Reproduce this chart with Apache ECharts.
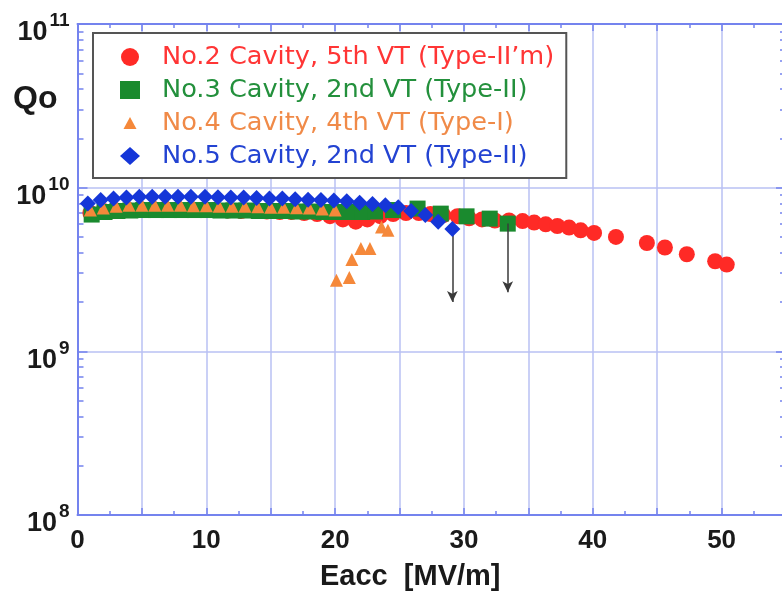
<!DOCTYPE html>
<html>
<head>
<meta charset="utf-8">
<script src="https://cdn.jsdelivr.net/npm/echarts@6/dist/echarts.min.js"></script>
<style>
html, body { margin: 0; padding: 0; background: #ffffff; }
#chart { width: 782px; height: 591px; }
</style>
</head>
<body>
<div id="chart"></div>
<script>
// Qo vs Eacc for four vertical tests (Q values in units of 1e9)
const seriesNames = [
  'No.2 Cavity, 5th VT (Type-II\u2019m)',
  'No.3 Cavity, 2nd VT (Type-II)',
  'No.4 Cavity, 4th VT (Type-I)',
  'No.5 Cavity, 2nd VT (Type-II)'
];

const no2E = [1.0, 2.0, 2.9, 3.9, 4.9, 5.9, 6.8, 7.8, 8.8, 9.8, 10.8, 11.7, 12.7, 13.7, 14.7, 15.7, 16.6, 17.6, 18.6, 19.6,
  20.6, 21.6, 22.5, 23.5, 24.5, 25.5, 26.5, 27.4, 28.4, 29.5, 30.4, 31.4, 32.4, 33.5, 34.55, 35.45, 36.35, 37.25, 38.16,
  39.06, 40.1, 41.8, 44.2, 45.6, 47.3, 49.5, 50.4];
const no2Q = [7.0, 7.2, 7.3, 7.35, 7.4, 7.4, 7.4, 7.35, 7.3, 7.3, 7.3, 7.25, 7.2, 7.2, 7.15, 7.1, 7.1, 7.0, 6.9, 6.7,
  6.4, 6.2, 6.4, 6.7, 6.9, 7.0, 7.0, 6.9, 6.8, 6.7, 6.5, 6.4, 6.3, 6.3, 6.25, 6.12, 5.97, 5.83, 5.7,
  5.49, 5.29, 5.0, 4.59, 4.31, 3.92, 3.55, 3.39];

const no3E = [1.1, 2.1, 3.1, 4.1, 5.1, 6.1, 7.1, 8.1, 9.1, 10.1, 11.1, 12.1, 13.1, 14.1, 15.1, 16.1, 17.1, 18.1, 19.1, 20.1,
  21.1, 22.1, 23.1, 24.5, 26.4, 28.2, 30.2, 32.0, 33.4];
const no3Q = [6.85, 7.1, 7.2, 7.25, 7.3, 7.3, 7.3, 7.3, 7.3, 7.3, 7.25, 7.25, 7.25, 7.2, 7.2, 7.2, 7.15, 7.15, 7.1, 7.1,
  7.1, 7.1, 7.15, 7.3, 7.45, 6.94, 6.68, 6.47, 6.03];

const no4E = [1.0, 2.0, 3.0, 4.0, 5.0, 6.0, 7.0, 8.0, 9.0, 10.0, 11.0, 12.0, 13.0, 14.0, 15.0, 16.0, 17.0, 18.0, 19.0, 20.0,
  20.1, 21.1, 21.3, 22.0, 22.7, 23.6, 24.1];
const no4Q = [7.3, 7.5, 7.7, 7.8, 7.8, 7.8, 7.8, 7.8, 7.75, 7.75, 7.7, 7.7, 7.7, 7.65, 7.6, 7.6, 7.55, 7.5, 7.4, 7.3,
  2.72, 2.83, 3.64, 4.25, 4.25, 5.75, 5.49];

const no5E = [0.8, 1.8, 2.8, 3.8, 4.8, 5.8, 6.8, 7.8, 8.8, 9.9, 10.9, 11.9, 12.9, 13.9, 14.9, 15.9, 16.9, 17.9, 18.9, 19.9,
  20.9, 21.9, 22.9, 23.9, 24.9, 25.9, 27.0, 28.0, 29.1];
const no5Q = [8.0, 8.4, 8.6, 8.7, 8.8, 8.8, 8.8, 8.8, 8.8, 8.8, 8.75, 8.7, 8.7, 8.65, 8.6, 8.6, 8.5, 8.45, 8.4, 8.35,
  8.25, 8.1, 7.95, 7.8, 7.6, 7.2, 6.8, 6.2, 5.6];

// quench-limited runs: arrows drop from the last measured point
const quenchE = [29.1, 33.4];
const quenchFromQ = [5.6, 6.03];
const quenchToQ = [2.0, 2.3];

// axis ticks
const xLabelValues = [0, 10, 20, 30, 40, 50];
const yExponents = [8, 9, 10, 11];

const colors = ['#ff2a26', '#1a8a2e', '#f5883a', '#1536d8'];
const textColors = ['#ff3535', '#23903c', '#f08a48', '#2343d2'];
const symbols = ['circle', 'rect', 'triangle', 'diamond'];
const symbolSizes = [16, 16, 13, 16];
// legend icons; the triangle carries extra move-to corners so it sits smaller in its box
const legendIcons = ['circle', 'rect', 'path://M0,0M20,18M10,3L16.5,15L3.5,15Z', 'diamond'];

const GRID_COLOR = '#b8c0f3';
const AXIS_COLOR = '#7483ee';

const pairs = (xs, ys) => xs.map((x, i) => [x, ys[i] * 1e9]);

const minorTickValues = [];
for (let e = yExponents[0]; e < yExponents[yExponents.length - 1]; e++) {
  for (let m = 2; m <= 9; m++) minorTickValues.push(m * Math.pow(10, e));
}
const majorTickValues = yExponents.map(e => Math.pow(10, e));

const arrowLines = quenchE.map((x, i) => [
  { coord: [x, quenchFromQ[i] * 1e9] },
  { coord: [x, quenchToQ[i] * 1e9] }
]);

const chart = echarts.init(document.getElementById('chart'), null, { renderer: 'canvas' });

const baseFont = 'Liberation Sans, Arial, sans-serif';

const xCommon = {
  type: 'value', min: 0, max: 55, interval: 5,
  axisLine: { show: true, lineStyle: { color: AXIS_COLOR, width: 2 } },
  axisTick: { show: true, inside: true, length: 7, lineStyle: { color: AXIS_COLOR, width: 1.5 } },
  minorTick: { show: true, splitNumber: 2, length: 4, lineStyle: { color: AXIS_COLOR, width: 1.5 } },
  splitLine: { show: false }
};

const yCommon = {
  type: 'log', min: 1e8, max: 1e11, logBase: 10,
  axisLine: { show: true, lineStyle: { color: AXIS_COLOR, width: 2 } },
  splitLine: { show: false },
  axisLabel: { show: false }
};

const option = {
  animation: false,
  backgroundColor: '#ffffff',
  grid: { left: 77.5, right: -4, top: 24, bottom: 76, containLabel: false, outerBoundsMode: 'none' },
  xAxis: [
    Object.assign({}, xCommon, {
      position: 'bottom',
      splitLine: { show: true, lineStyle: { color: GRID_COLOR, width: 1.5 } },
      axisLabel: {
        show: true, customValues: xLabelValues, margin: 13,
        fontFamily: baseFont, fontSize: 26, fontWeight: 'bold', color: '#1a1a1a'
      },
      name: 'Eacc  [MV/m]', nameLocation: 'middle', nameGap: 47,
      nameTextStyle: { fontFamily: baseFont, fontSize: 29, fontWeight: 'bold', color: '#1a1a1a', padding: [0, 43, 0, 0] }
    }),
    Object.assign({}, xCommon, { position: 'top', axisLabel: { show: false } })
  ],
  yAxis: [
    Object.assign({}, yCommon, {
      position: 'left',
      splitLine: { show: true, lineStyle: { color: GRID_COLOR, width: 1.5 } },
      axisTick: { show: true, inside: true, length: 10, customValues: majorTickValues, lineStyle: { color: AXIS_COLOR, width: 1.5 } },
      axisLabel: {
        show: true, customValues: majorTickValues, margin: 8, padding: [6, 0, 0, 0],
        formatter: v => '{b|10}{s|' + Math.round(Math.log10(v)) + '}',
        rich: {
          b: { fontFamily: baseFont, fontSize: 27, fontWeight: 'bold', color: '#1a1a1a', padding: [12, 0, 0, 0] },
          s: { fontFamily: baseFont, fontSize: 19, fontWeight: 'bold', color: '#1a1a1a', padding: [0, 0, 12, 2] }
        }
      }
    }),
    Object.assign({}, yCommon, {
      position: 'left',
      axisTick: { show: true, inside: true, length: 6, customValues: minorTickValues, lineStyle: { color: AXIS_COLOR, width: 1.5 } }
    }),
    Object.assign({}, yCommon, {
      position: 'right',
      axisTick: { show: true, inside: true, length: 10, customValues: majorTickValues, lineStyle: { color: AXIS_COLOR, width: 1.5 } }
    }),
    Object.assign({}, yCommon, {
      position: 'right',
      axisTick: { show: true, inside: true, length: 6, customValues: minorTickValues, lineStyle: { color: AXIS_COLOR, width: 1.5 } }
    })
  ],
  legend: {
    orient: 'vertical', left: 93, top: 33,
    backgroundColor: '#ffffff', borderColor: '#555555', borderWidth: 2, borderRadius: 0,
    padding: [11, 12, 9, 27],
    itemWidth: 20, itemHeight: 18, itemGap: 7,
    textStyle: { fontFamily: 'DejaVu Sans, sans-serif', fontSize: 25.6, lineHeight: 26, padding: [0, 0, 0, 17] },
    selectedMode: false,
    data: seriesNames.map((n, i) => ({ name: n, icon: legendIcons[i], textStyle: { color: textColors[i] } }))
  },
  graphic: [{
    type: 'text', left: 13, top: 83,
    style: { text: 'Qo', fontFamily: baseFont, fontSize: 32, fontWeight: 'bold', fill: '#1a1a1a' }
  }],
  series: [
    { E: no2E, Q: no2Q }, { E: no3E, Q: no3Q }, { E: no4E, Q: no4Q }, { E: no5E, Q: no5Q }
  ].map((d, i) => ({
    name: seriesNames[i],
    type: 'scatter',
    xAxisIndex: 0, yAxisIndex: 0,
    symbol: symbols[i], symbolSize: symbolSizes[i],
    itemStyle: { color: colors[i], opacity: 1 },
    z: 2 + i,
    data: pairs(d.E, d.Q),
    markLine: i === 3 ? {
      silent: true, symbol: ['none', 'arrow'], symbolSize: [8, 11],
      label: { show: false },
      lineStyle: { color: '#3a3a3a', width: 1.5, type: 'solid' },
      data: arrowLines
    } : undefined
  }))
};

chart.setOption(option);
</script>
</body>
</html>
